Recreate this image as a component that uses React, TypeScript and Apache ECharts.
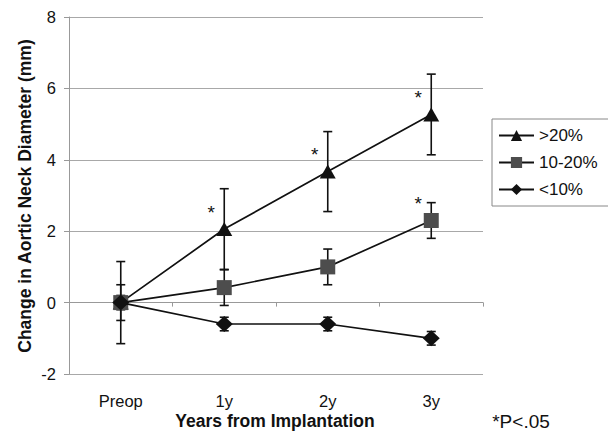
import React, { useEffect, useRef } from "react";
import * as echarts from "echarts";

const categories = ["Preop", "1y", "2y", "3y"];
const yTicks = [-2, 0, 2, 4, 6, 8];

const seriesNames = [">20%", "10-20%", "<10%"];
const gt20 = [0, 2.06, 3.67, 5.27];
const gt20Err = [1.15, 1.13, 1.12, 1.13];
const gt20Sig = [false, true, true, true];

const mid = [0, 0.42, 1.0, 2.3];
const midErr = [0.5, 0.5, 0.5, 0.5];
const midSig = [false, false, false, true];

const lt10 = [0, -0.6, -0.6, -1.0];
const lt10Err = [0.2, 0.19, 0.19, 0.19];
const lt10Sig = [false, false, false, false];

const FONT = "Liberation Sans, Arial, sans-serif";

function errorSeries(values: number[], errs: number[], z: number) {
  return {
    type: "custom",
    z,
    silent: true,
    data: values.map((v, i) => [i, v - errs[i], v + errs[i]]),
    renderItem: (params: any, api: any) => {
      const lo = api.coord([api.value(0), api.value(1)]);
      const hi = api.coord([api.value(0), api.value(2)]);
      const cw = 4.5;
      const st = { stroke: "#111", lineWidth: 1.6 };
      return {
        type: "group",
        children: [
          { type: "line", shape: { x1: lo[0], y1: lo[1], x2: hi[0], y2: hi[1] }, style: st },
          { type: "line", shape: { x1: lo[0] - cw, y1: lo[1], x2: lo[0] + cw, y2: lo[1] }, style: st },
          { type: "line", shape: { x1: hi[0] - cw, y1: hi[1], x2: hi[0] + cw, y2: hi[1] }, style: st },
        ],
      };
    },
  };
}

function lineSeries(name: string, values: number[], sig: boolean[], symbol: string, size: any, color: string, z: number) {
  return {
    type: "line",
    name,
    z,
    symbol,
    symbolSize: size,
    data: values.map((v, i) => ({
      value: v,
      label: sig[i]
        ? { show: true, formatter: "*", position: "inside", offset: [-13, -17], fontSize: 19, color: "#111", fontFamily: FONT }
        : { show: false },
    })),
    lineStyle: { color: "#111", width: 1.7 },
    itemStyle: { color, borderColor: color, borderWidth: 0, opacity: 1 },
    emphasis: { disabled: true },
  };
}

export default function App() {
  const ref = useRef<HTMLDivElement>(null);
  useEffect(() => {
    const chart = echarts.init(ref.current!, null, { renderer: "svg" });
    chart.setOption({
      animation: false,
      backgroundColor: "#fff",
      textStyle: { fontFamily: FONT },
      grid: { left: 69, right: 125, top: 17, bottom: 62, containLabel: false },
      xAxis: [
        {
          type: "category",
          data: categories,
          boundaryGap: true,
          axisLine: { show: false, onZero: false },
          axisTick: { show: false },
          axisLabel: { fontSize: 16.5, color: "#111", margin: 18, fontFamily: FONT },
          splitLine: { show: false },
        },
        {
          type: "category",
          data: categories,
          boundaryGap: true,
          position: "bottom",
          axisLine: { show: true, onZero: true, lineStyle: { color: "#999", width: 1 } },
          axisTick: { show: true, length: 4, lineStyle: { color: "#999" } },
          axisLabel: { show: false },
          splitLine: { show: false },
        },
      ],
      yAxis: {
        type: "value",
        min: yTicks[0],
        max: yTicks[yTicks.length - 1],
        interval: 2,
        axisLine: { show: true, lineStyle: { color: "#999", width: 1 } },
        axisTick: { show: true, length: 5, lineStyle: { color: "#999" } },
        axisLabel: { fontSize: 16.5, color: "#111", margin: 13, fontFamily: FONT },
        splitLine: { show: true, lineStyle: { color: "#a8a8a8", width: 1 } },
      },
      legend: {
        data: seriesNames,
        orient: "vertical",
        left: 492,
        top: 119,
        width: 112,
        borderColor: "#888",
        borderWidth: 1,
        padding: [8, 12, 8, 6],
        itemWidth: 35,
        itemHeight: 14,
        itemGap: 10,
        textStyle: { fontSize: 17, color: "#111", fontFamily: FONT },
        selectedMode: false,
      },
      series: [
        errorSeries(gt20, gt20Err, 1),
        errorSeries(mid, midErr, 1),
        errorSeries(lt10, lt10Err, 1),
        lineSeries(seriesNames[0], gt20, gt20Sig, "triangle", [16, 14], "#111", 3),
        lineSeries(seriesNames[1], mid, midSig, "rect", 15, "#4d4d4d", 4),
        lineSeries(seriesNames[2], lt10, lt10Sig, "diamond", [17, 16], "#111", 5),
      ],
      graphic: [
        {
          type: "text",
          x: 25,
          y: 196,
          rotation: Math.PI / 2,
          style: {
            text: "Change in Aortic Neck Diameter (mm)",
            font: `bold 17.5px ${FONT}`,
            fill: "#111",
            align: "center",
            verticalAlign: "middle",
          },
        },
        {
          type: "text",
          x: 275,
          y: 421,
          style: {
            text: "Years from Implantation",
            font: `bold 17.5px ${FONT}`,
            fill: "#111",
            align: "center",
            verticalAlign: "middle",
          },
        },
        {
          type: "text",
          x: 521,
          y: 421,
          style: {
            text: "*P<.05",
            font: `19px ${FONT}`,
            fill: "#111",
            align: "center",
            verticalAlign: "middle",
          },
        },
      ],
    });
    return () => chart.dispose();
  }, []);
  return <div ref={ref} style={{ position: "fixed", left: 0, top: 0, width: 608, height: 436 }} />;
}
